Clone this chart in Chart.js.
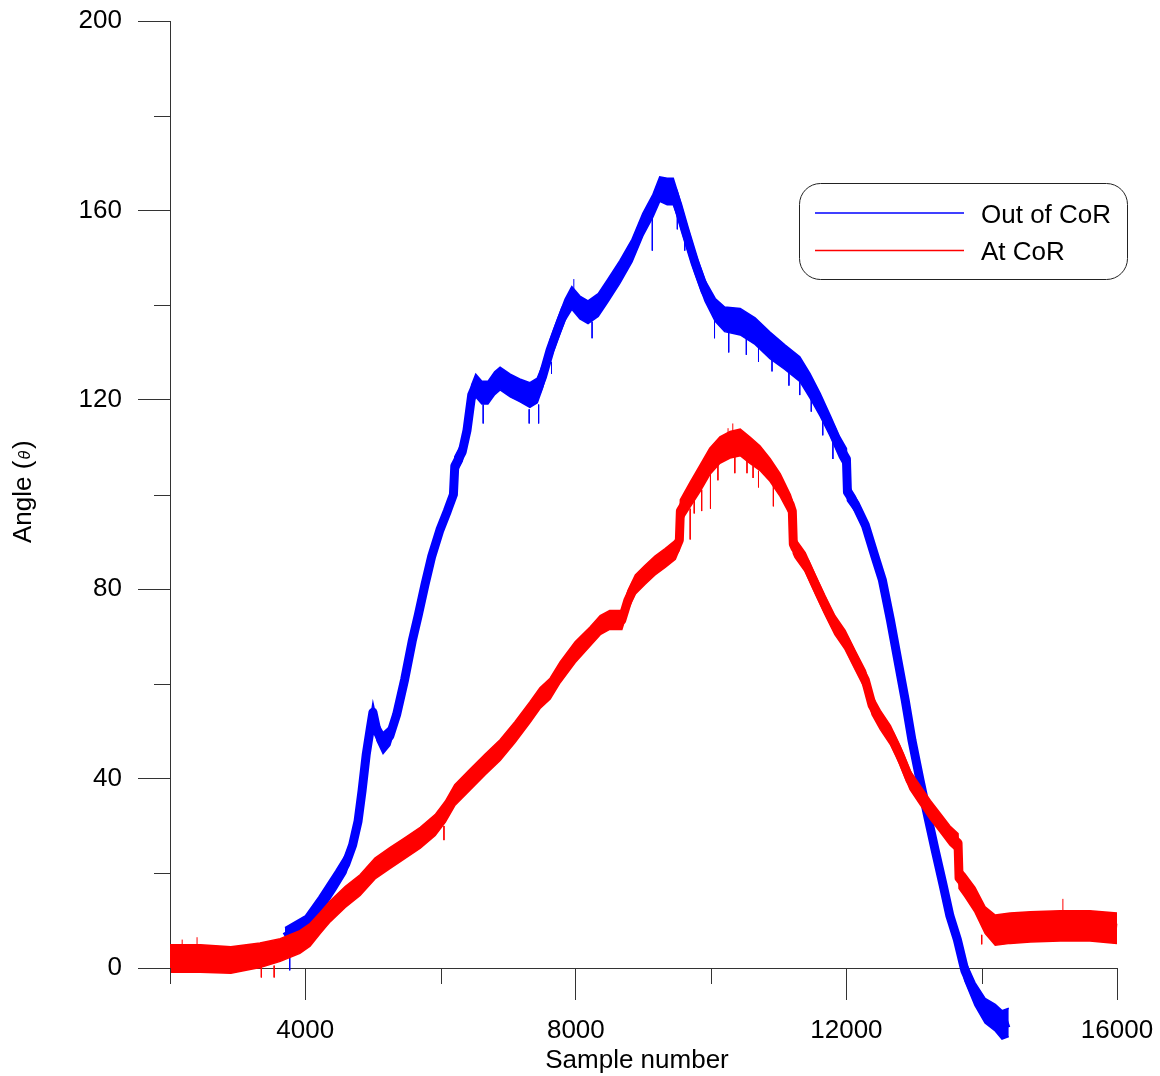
<!DOCTYPE html>
<html>
<head>
<meta charset="utf-8">
<title>Angle vs sample number</title>
<script src="https://cdn.jsdelivr.net/npm/chart.js@4.4.1/dist/chart.umd.min.js"></script>
<style>
  html, body { margin: 0; padding: 0; background: #ffffff; }
  #wrap { width: 1160px; height: 1076px; position: relative; }
</style>
</head>
<body>
<div id="wrap"><canvas id="chart" width="1160" height="1076"></canvas></div>
<script>
// ---- Series: "Out of CoR" ----
const outSamples = [3700, 4000, 4200, 4450, 4600, 4700, 4780, 4840, 4900, 4960, 5000, 5060, 5150, 5250, 5350,
  5470, 5580, 5670, 5770, 5870, 5990, 6100, 6190, 6210, 6320, 6390, 6460, 6520, 6610, 6700, 6800, 6880,
  7030, 7170, 7320, 7430, 7510, 7620, 7720, 7840, 7940, 8060, 8180, 8330, 8470, 8650, 8830, 8990, 9140,
  9240, 9350, 9440, 9510, 9610, 9760, 9910, 10060, 10200, 10430, 10650, 10870, 11090, 11310, 11460, 11610,
  11760, 11900, 12000, 12015, 12130, 12280, 12420, 12530, 12650, 12760, 12870, 12970, 13090, 13210, 13310,
  13430, 13530, 13640, 13750, 13900, 14050, 14200, 14300, 14400];
const outAngle = [6.5, 9, 13, 18.5, 22, 26, 31, 37.5, 45, 50.5, 54, 50, 47.5, 49, 53.5,
  61, 69, 74.5, 81, 87, 92.5, 96.5, 100, 106, 109, 113.5, 121, 123, 121.5, 121.5, 123.5, 124.5,
  123, 122, 121, 122, 125, 130.5, 134.5, 139, 141.5, 139.5, 138.5, 140, 143, 147, 151.5, 157, 161,
  164.5, 164, 164, 161, 156, 149, 143, 139, 137, 136.5, 134.5, 131.5, 129, 126.5, 123, 119,
  114.5, 110, 107.5, 100.5, 98, 93.5, 87, 82, 73.5, 65, 56.5, 48, 39.5, 31.5, 25,
  17.5, 11, 6, -0.5, -5.5, -9, -10.5, -12, -11.5];
const outSpread = [2, 2, 2, 2, 2, 1.8, 1.6, 1.5, 1.5, 1.8, 2, 2, 2.2, 2, 1.8,
  1.6, 1.6, 1.6, 1.6, 1.6, 1.6, 1.8, 1.8, 2, 2, 2, 2.2, 2.4, 2.4, 2.4, 2.4, 2.4,
  2.4, 2.4, 2.6, 2.6, 2.4, 2.2, 2.2, 2.2, 2.4, 2.4, 2.4, 2.4, 2.4, 2.4, 2.4, 2.4, 2.4,
  2.6, 2.8, 2.8, 2.6, 2.4, 2.2, 2.2, 2.4, 2.6, 2.8, 2.8, 2.8, 2.6, 2.6, 2.6, 2.4,
  2.2, 2.2, 2.2, 1.8, 1.6, 1.5, 1.5, 1.5, 1.5, 1.5, 1.5, 1.5, 1.5, 1.5, 1.5,
  1.6, 1.8, 2, 2.2, 2.4, 2.6, 2.8, 3, 3];
// occasional dropouts: [sample, start angle, end angle]
const outSpikes = [[3770, 5, -0.5], [6630, 119, 115], [7310, 118, 115], [7450, 119, 115], [7640, 128, 125.5],
  [7970, 143, 145.5], [8240, 136.5, 133], [9130, 158.5, 151.5], [9500, 159, 156], [9610, 154, 151.5],
  [10050, 137, 133], [10260, 135, 130], [10520, 134, 129.5], [10700, 132, 128], [10900, 129.5, 126],
  [11150, 127, 123], [11310, 124, 121], [11480, 121, 117.5], [11650, 117, 112.5], [11800, 112, 107.5]];

// ---- Series: "At CoR" ----
const atSamples = [2000, 2450, 2900, 3330, 3630, 3920, 4070, 4220, 4370, 4590, 4810, 5030, 5250, 5470, 5700,
  5920, 6070, 6210, 6430, 6660, 6880, 7100, 7320, 7470, 7620, 7770, 7990, 8210, 8360, 8500, 8680, 8770,
  8880, 9020, 9170, 9320, 9470, 9530, 9545, 9690, 9840, 9980, 10130, 10280, 10430, 10570, 10720, 10870,
  11020, 11170, 11200, 11215, 11240, 11390, 11540, 11680, 11830, 11980, 12130, 12280, 12380, 12500, 12650,
  12790, 12940, 13090, 13240, 13380, 13530, 13650, 13665, 13750, 13900, 14050, 14200, 14420, 14720, 15160,
  15600, 16000];
const atAngle = [2, 2, 1.7, 2.7, 3.8, 5.5, 7, 9.5, 12, 15, 17.5, 21, 23.2, 25.3, 27.5,
  30.2, 33, 36.5, 39.7, 43, 46, 49.8, 54, 57, 59, 62.5, 66.7, 70, 72.4, 73.5, 73.5, 77.7,
  81, 83, 85, 86.6, 88.3, 90.4, 96.5, 100, 103.5, 107, 109.4, 110.5, 111, 109.4, 107.7, 105.2,
  102, 97.8, 96.5, 89.5, 88.7, 85.7, 81, 76.7, 72.4, 69.3, 65, 60.8, 55.5, 52.4, 49.2,
  45, 39.7, 36.5, 33.4, 30.8, 28, 26.4, 19, 17.5, 14.4, 10.1, 8, 8.4, 8.7, 8.9,
  8.9, 8.4];
const atSpread = [2.9, 2.9, 2.8, 2.6, 2.4, 2.4, 2.4, 2.2, 2.2, 2.2, 2.2, 2.2, 2.2, 2.2, 2.2,
  2.2, 2.2, 2.2, 2.2, 2.2, 2.2, 2.2, 2.2, 2.2, 2.2, 2.2, 2.2, 2, 2, 2, 2, 2,
  2, 2, 2, 2, 2, 2, 2.4, 2.6, 2.8, 2.8, 2.8, 2.8, 2.8, 2.8, 2.6, 2.4,
  2.4, 2.2, 2.2, 2, 2, 2, 2, 2, 2, 2, 2, 2, 2, 2, 2,
  2, 2, 2, 2, 2, 2, 2, 2.2, 2.4, 2.6, 2.8, 3.2, 3.2, 3.2, 3.2,
  3.2, 3.2];
const atSpikes = [[2180, 4.5, 6], [2400, 4.5, 6.5], [3350, 0.5, -2], [3540, 0.5, -2], [6050, 30, 27],
  [9690, 97, 90.5], [9750, 100, 96], [9860, 101, 96.5], [9990, 104.5, 97], [10100, 107, 103],
  [10250, 112.5, 114], [10320, 113, 115], [10350, 108, 104.5], [10530, 107.5, 104.5], [10620, 106, 103.5],
  [10700, 105, 101.5], [10920, 103, 97.5], [14000, 7, 5], [15200, 11.5, 14.6]];

// ---- Axes ----
const xMajorTicks = [4000, 8000, 12000, 16000];
const xMinorTicks = [2000, 6000, 10000, 14000];
const yMajorTicks = [0, 40, 80, 120, 160, 200];
const yMinorTicks = [20, 60, 100, 140, 180];
const seriesNames = ['Out of CoR', 'At CoR'];
const xTitle = 'Sample number';

const FONT = '"Liberation Sans", Arial, Helvetica, sans-serif';
const BLUE = '#0000ff';
const RED = '#ff0000';
const AXIS = '#333333';

function toPoints(xs, ys) { return xs.map((x, i) => ({ x: x, y: ys[i] })); }
function edge(xs, ys, sp, sign) { return xs.map((x, i) => ({ x: x, y: ys[i] + sign * sp[i] })); }
function spikePoints(list) {
  const out = [];
  list.forEach(([x, a, b]) => { out.push({ x: x, y: a }, { x: x, y: b }, { x: x, y: null }); });
  return out;
}

function seriesSet(name, color, xs, ys, sp, spikes) {
  const common = { borderColor: color, pointRadius: 0, pointHoverRadius: 0, tension: 0, clip: false, spanGaps: false };
  return [
    Object.assign({ label: name + ' spikes', data: spikePoints(spikes), borderWidth: 1, fill: false }, common),
    Object.assign({ label: name, data: toPoints(xs, ys), borderWidth: 9, fill: false, borderJoinStyle: 'round' }, common),
    Object.assign({ label: name + ' low', data: edge(xs, ys, sp, -1), borderWidth: 1.5, fill: false }, common),
    Object.assign({ label: name + ' high', data: edge(xs, ys, sp, 1), borderWidth: 1.5, fill: '-1', backgroundColor: color }, common)
  ];
}

// Let the noise bands run past the bottom axis like the traces themselves
const bandOverflow = {
  id: 'bandOverflow',
  beforeDatasetsDraw(chart) {
    chart.$savedArea = Object.assign({}, chart.chartArea);
    chart.chartArea.bottom += 100;
    chart.chartArea.height += 100;
  },
  afterDatasetsDraw(chart) {
    Object.assign(chart.chartArea, chart.$savedArea);
  }
};

// Tick marks between labelled ticks, axis titles and the boxed legend
const decorations = {
  id: 'decorations',
  afterDraw(chart) {
    const ctx = chart.ctx;
    const xs = chart.scales.x, ys = chart.scales.y;
    const area = chart.chartArea;
    ctx.save();
    ctx.strokeStyle = AXIS;
    ctx.lineWidth = 1;
    ctx.beginPath();
    xMinorTicks.forEach(v => {
      const px = Math.round(xs.getPixelForValue(v)) + 0.5;
      ctx.moveTo(px, area.bottom);
      ctx.lineTo(px, area.bottom + 16);
    });
    yMinorTicks.forEach(v => {
      const py = Math.round(ys.getPixelForValue(v)) + 0.5;
      ctx.moveTo(area.left - 16, py);
      ctx.lineTo(area.left, py);
    });
    ctx.stroke();

    // x title
    ctx.fillStyle = '#000';
    ctx.font = '26px ' + FONT;
    ctx.textAlign = 'center';
    ctx.textBaseline = 'alphabetic';
    ctx.fillText(xTitle, 637, 1068);

    // y title: Angle (θ)
    ctx.save();
    ctx.translate(31, 543);
    ctx.rotate(-Math.PI / 2);
    ctx.textAlign = 'left';
    let cx = 0;
    ctx.font = '26px ' + FONT;
    ctx.fillText('Angle (', cx, 0);
    cx += ctx.measureText('Angle (').width + 1;
    ctx.font = 'italic 16px ' + FONT;
    ctx.fillText('\u03B8', cx, -1);
    cx += ctx.measureText('\u03B8').width + 2;
    ctx.font = '26px ' + FONT;
    ctx.fillText(')', cx, 0);
    ctx.restore();

    // legend
    const bx = 799.5, by = 183.5, bw = 328, bh = 96, r = 21;
    ctx.beginPath();
    ctx.moveTo(bx + r, by);
    ctx.lineTo(bx + bw - r, by);
    ctx.arcTo(bx + bw, by, bx + bw, by + r, r);
    ctx.lineTo(bx + bw, by + bh - r);
    ctx.arcTo(bx + bw, by + bh, bx + bw - r, by + bh, r);
    ctx.lineTo(bx + r, by + bh);
    ctx.arcTo(bx, by + bh, bx, by + bh - r, r);
    ctx.lineTo(bx, by + r);
    ctx.arcTo(bx, by, bx + r, by, r);
    ctx.closePath();
    ctx.fillStyle = '#ffffff';
    ctx.fill();
    ctx.strokeStyle = '#222222';
    ctx.lineWidth = 1;
    ctx.stroke();

    const rows = [[seriesNames[0], BLUE, 213, 223], [seriesNames[1], RED, 250.5, 260]];
    rows.forEach(([label, color, ly, ty]) => {
      ctx.strokeStyle = color;
      ctx.lineWidth = 1.5;
      ctx.beginPath();
      ctx.moveTo(815, ly);
      ctx.lineTo(964, ly);
      ctx.stroke();
      ctx.fillStyle = '#000';
      ctx.font = '26px ' + FONT;
      ctx.textAlign = 'left';
      ctx.textBaseline = 'alphabetic';
      ctx.fillText(label, 981, ty);
    });
    ctx.restore();
  }
};

const datasets = []
  .concat(seriesSet(seriesNames[1], RED, atSamples, atAngle, atSpread, atSpikes))
  .concat(seriesSet(seriesNames[0], BLUE, outSamples, outAngle, outSpread, outSpikes));

function fixPadding(s) { s.paddingLeft = 0; s.paddingRight = 0; s.paddingTop = 0; s.paddingBottom = 0; }
const plainNumber = v => String(v);

new Chart(document.getElementById('chart'), {
  type: 'line',
  data: { datasets: datasets },
  options: {
    responsive: false,
    animation: false,
    events: [],
    layout: { padding: { top: 21, right: 43, left: 0, bottom: 0 } },
    plugins: { legend: { display: false }, tooltip: { enabled: false }, title: { display: false } },
    scales: {
      x: {
        type: 'linear',
        min: 2000,
        max: 16000,
        afterBuildTicks: s => { s.ticks = xMajorTicks.map(v => ({ value: v })); },
        afterFit: s => { s.height = 108; fixPadding(s); },
        grid: { drawOnChartArea: false, drawTicks: true, tickLength: 32, color: AXIS, lineWidth: 1 },
        border: { display: true, color: AXIS, width: 1 },
        ticks: { color: '#000', font: { family: FONT, size: 26 }, padding: 15, maxRotation: 0, autoSkip: false, callback: plainNumber }
      },
      y: {
        type: 'linear',
        min: 0,
        max: 200,
        afterBuildTicks: s => { s.ticks = yMajorTicks.map(v => ({ value: v })); },
        afterFit: s => { s.width = 170; fixPadding(s); },
        grid: { drawOnChartArea: false, drawTicks: true, tickLength: 32, color: AXIS, lineWidth: 1 },
        border: { display: true, color: AXIS, width: 1 },
        ticks: { color: '#000', font: { family: FONT, size: 26 }, padding: 16, autoSkip: false, callback: plainNumber }
      }
    }
  },
  plugins: [bandOverflow, decorations]
});
</script>
</body>
</html>
